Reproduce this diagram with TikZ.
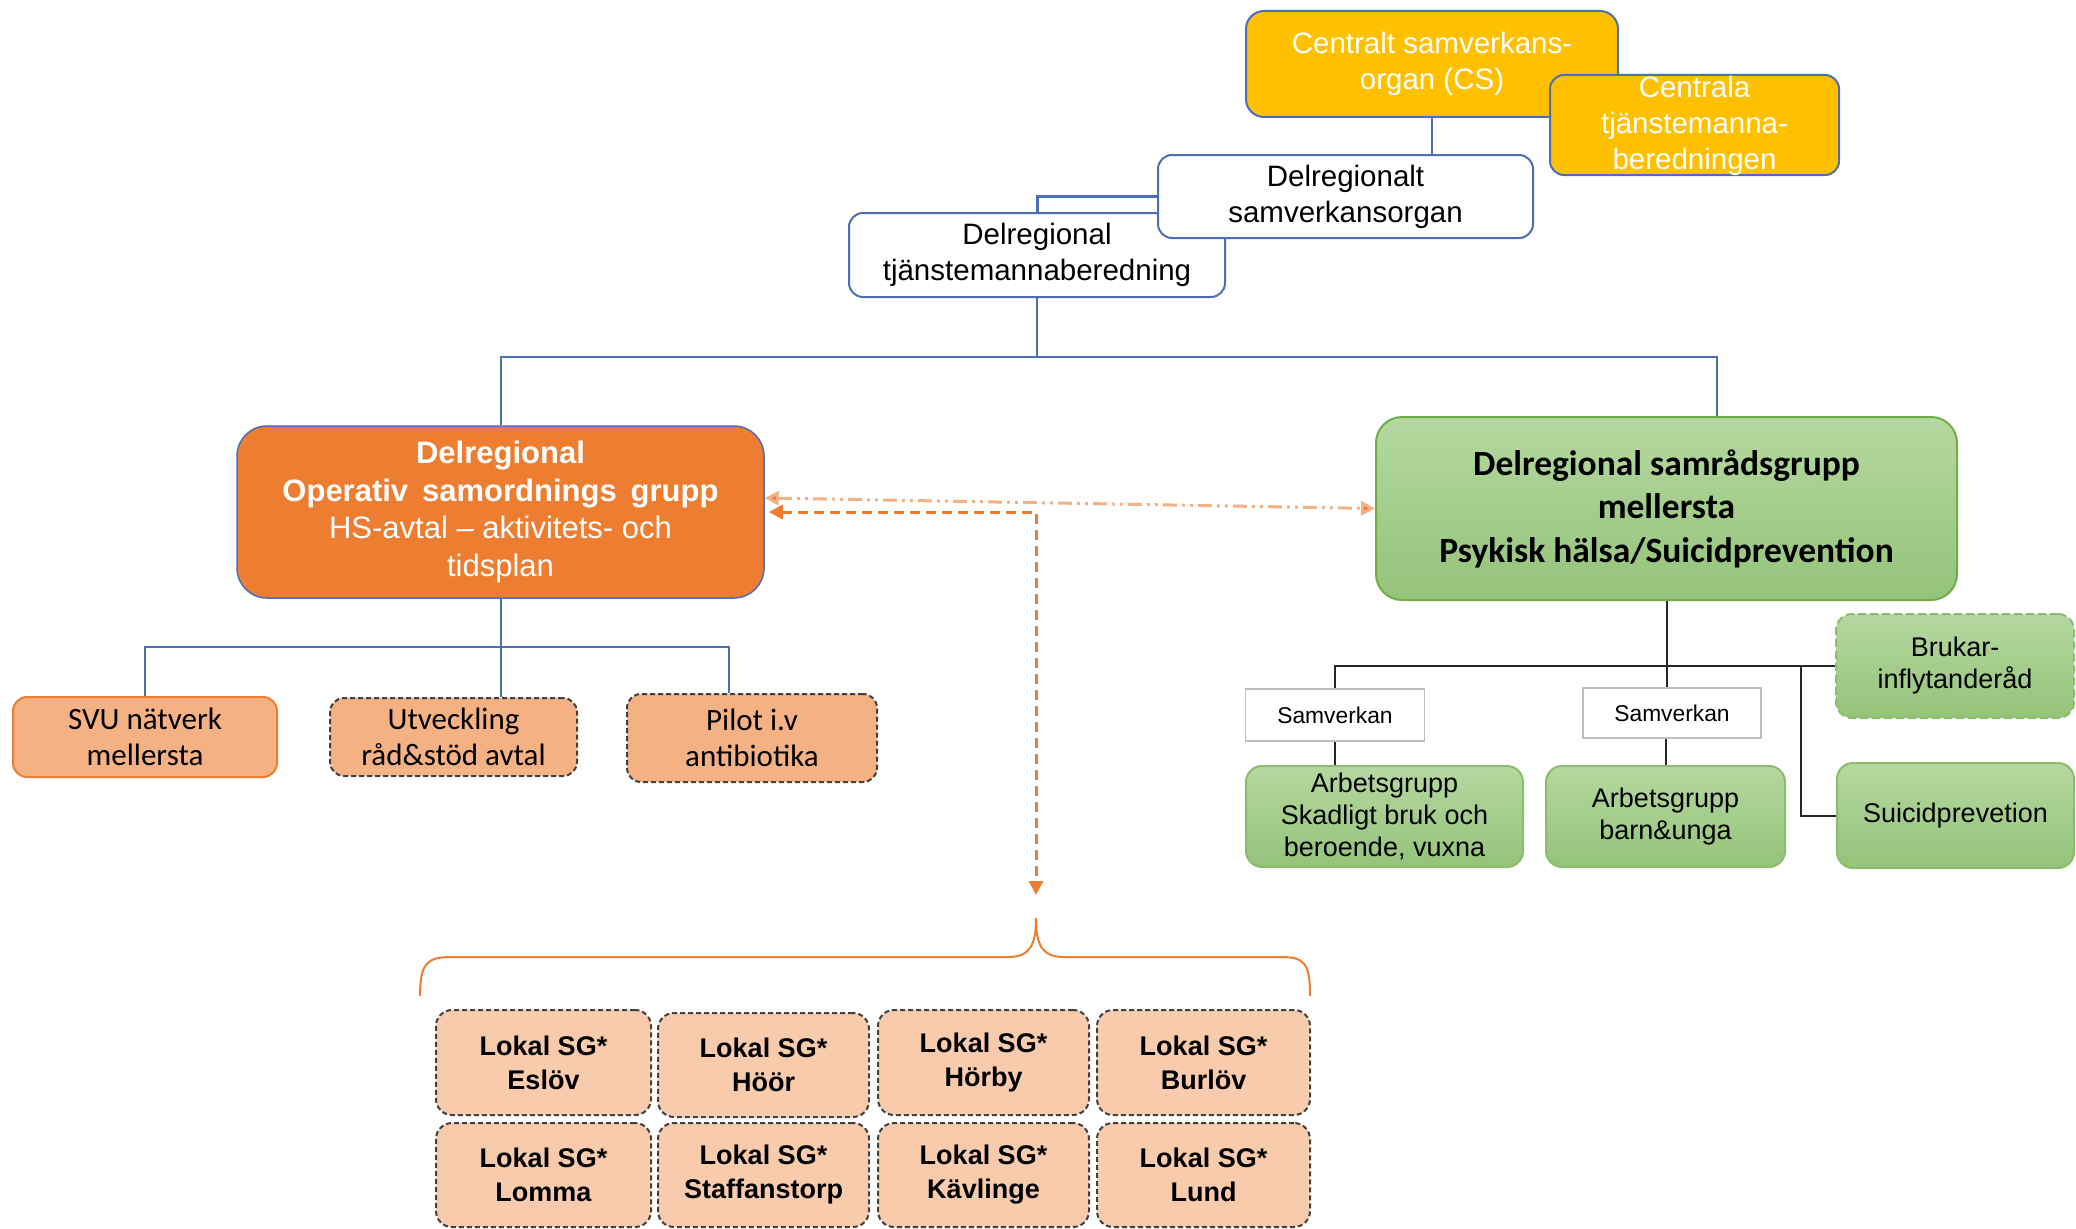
\documentclass[tikz,border=0pt]{standalone}
\usepackage{fontspec}
\setmainfont{Liberation Sans}
\newfontfamily\calibfont{Carlito}
\usetikzlibrary{arrows.meta}
\definecolor{cblue}{HTML}{4A6FB5}
\definecolor{cyellow}{HTML}{FFC000}
\definecolor{corange}{HTML}{ED7D31}
\definecolor{clor}{HTML}{F4B183}
\definecolor{clokal}{HTML}{F8CBAD}
\definecolor{cdash}{HTML}{404040}
\definecolor{cgreenb}{HTML}{70AD47}
\definecolor{cgtop}{HTML}{B5D8A0}
\definecolor{cgbot}{HTML}{94C37A}
\definecolor{cgray}{HTML}{BFBFBF}
\begin{document}
\begin{tikzpicture}[x=1pt,y=-1pt,
  topbox/.style={draw=cblue, line width=2pt, fill=white, rounded corners=14pt, inner sep=0pt, align=center, font=\fontsize{29.5}{36}\selectfont},
  ybox/.style={topbox, fill=cyellow, text=white},
  mainor/.style={draw=cblue, line width=1.5pt, fill=corange, rounded corners=30pt, text=white, align=center, inner sep=0pt, font=\fontsize{31}{37.5}\selectfont},
  maingr/.style={draw=cgreenb, line width=2pt, top color=cgtop, bottom color=cgbot, rounded corners=26pt, align=center, inner sep=0pt, font=\calibfont\bfseries\fontsize{35.5}{43.5}\selectfont},
  smallor/.style={fill=clor, rounded corners=14pt, align=center, inner sep=0pt, font=\calibfont\fontsize{31}{36}\selectfont},
  solidor/.style={smallor, draw=corange, line width=2pt},
  dashor/.style={smallor, draw=cdash, line width=2pt, dash pattern=on 5pt off 3pt},
  lokal/.style={fill=clokal, draw=cdash, line width=2pt, dash pattern=on 5pt off 3pt, rounded corners=16pt, align=center, inner sep=0pt, font=\bfseries\fontsize{27}{34}\selectfont},
  grbox/.style={draw=cgreenb!80, line width=2pt, top color=cgtop, bottom color=cgbot, rounded corners=16pt, align=center, inner sep=0pt, font=\fontsize{27}{32}\selectfont},
  samv/.style={draw=cgray, line width=1.5pt, fill=white, inner sep=0pt, font=\fontsize{22.8}{27}\selectfont},
  bconn/.style={draw=cblue, line width=2pt},
  kconn/.style={draw=black!85, line width=2pt},
  dline/.style={draw=corange, line width=3pt, dash pattern=on 10pt off 6pt, {Triangle[length=14pt,width=14pt]}-{Triangle[length=14pt,width=14pt]}},
  ddline/.style={draw=clor, line width=3pt, dash pattern=on 14pt off 5pt on 3pt off 5pt on 3pt off 5pt, {Triangle[length=14pt,width=14pt,fill=corange]}-{Triangle[length=14pt,width=14pt,fill=corange]}}
]
\fill[white] (0,0) rectangle (2076,1228);
\useasboundingbox (0,0) rectangle (2076,1228);

% top boxes
\node[topbox, minimum width=376pt, minimum height=84pt] (dtb) at (1037,255) {Delregional\\tjänstemannaberedning};
\node[topbox, minimum width=375pt, minimum height=83pt] (dso) at (1345.5,196.5) {Delregionalt\\samverkansorgan};
\node[ybox, minimum width=372pt, minimum height=106pt, rounded corners=18pt] (cs) at (1432,64) {Centralt samverkans-\\organ (CS)};
\node[ybox, minimum width=289pt, minimum height=100pt] (ctb) at (1694.5,125) {};
\node[text=white, align=center, inner sep=0pt, font=\fontsize{29.5}{36}\selectfont] (ctbt) at (1694.5,126) {Centrala\\tjänstemanna-\\beredningen};

\draw[bconn] (cs.south) -- (cs.south |- dso.north);
\draw[bconn, line width=3pt] (dso.west) -| (dtb.north);

% main boxes
\node[mainor, minimum width=527pt, minimum height=172pt] (osg) at (500.5,512) {\textbf{Delregional}\\\textbf{Operativ\hspace{0.45em}samordnings\hspace{0.45em}grupp}\\HS-avtal -- aktivitets- och\\tidsplan};
\node[maingr, minimum width=581pt, minimum height=183pt] (gsg) at (1666.5,508.5) {Delregional samrådsgrupp\\mellersta\\Psykisk hälsa/Suicidprevention};

\coordinate (gj) at (1717,357);
\draw[bconn] (dtb.south) -- (dtb.south |- gj);
\draw[bconn] (osg.north) |- (gj) -- (gj |- gsg.north);

% orange sub-boxes
\node[solidor, minimum width=264pt, minimum height=80pt] (svu) at (145,737) {SVU nätverk\\mellersta};
\node[dashor, minimum width=247pt, minimum height=78pt] (utv) at (453.5,737) {Utveckling\\råd\&stöd avtal};
\node[dashor, minimum width=250pt, minimum height=88pt] (pil) at (752,738) {Pilot i.v\\antibiotika};

\coordinate (ojr) at (729,647);
\draw[bconn] (osg.south) -- (osg.south |- utv.north);
\draw[bconn] (svu.north) |- (ojr) -- (ojr |- pil.north);

% orange arrows
\coordinate (dend) at (1036,895);
\draw[ddline] ([yshift=14pt]osg.east) -- (gsg.west);
\draw[dline] ([xshift=4pt]osg.east) -| (dend);

% brace
\coordinate (btip) at (1036,918);
\draw[corange, line width=2pt] (420,996) .. controls (420,962) and (428,957) .. (452,957) -- (1008,957) .. controls (1030,957) and (1036,945) .. (btip) .. controls (1036,945) and (1042,957) .. (1064,957) -- (1280,957) .. controls (1304,957) and (1310,962) .. (1310,996);

% lokal boxes
\node[lokal, minimum width=215pt, minimum height=105pt] (l1) at (543.5,1062.5) {Lokal SG*\\Eslöv};
\node[lokal, minimum width=211pt, minimum height=104pt] (l2) at (763.5,1065) {Lokal SG*\\Höör};
\node[lokal, minimum width=211pt, minimum height=105pt] (l3) at (983.5,1062.5) {Lokal SG*\\Hörby};
\node[lokal, minimum width=213pt, minimum height=105pt] (l4) at (1203.5,1062.5) {Lokal SG*\\Burlöv};
\node[lokal, minimum width=215pt, minimum height=104pt] (l5) at (543.5,1175) {Lokal SG*\\Lomma};
\node[lokal, minimum width=211pt, minimum height=104pt] (l6) at (763.5,1175) {Lokal SG*\\Staffanstorp};
\node[lokal, minimum width=211pt, minimum height=104pt] (l7) at (983.5,1175) {Lokal SG*\\Kävlinge};
\node[lokal, minimum width=213pt, minimum height=104pt] (l8) at (1203.5,1175) {Lokal SG*\\Lund};

% right side
\node[samv, minimum width=179pt, minimum height=52pt] (sv1) at (1335,715) {Samverkan};
\node[samv, minimum width=178pt, minimum height=50pt] (sv2) at (1672,713) {Samverkan};
\node[grbox, minimum width=277pt, minimum height=101pt] (arb1) at (1384.5,816.5) {Arbetsgrupp\\Skadligt bruk och\\beroende, vuxna};
\node[grbox, minimum width=239pt, minimum height=101pt] (arb2) at (1665.5,816.5) {Arbetsgrupp\\barn\&unga};
\node[grbox, dash pattern=on 8pt off 4pt, minimum width=238pt, minimum height=104pt] (brk) at (1955,666) {Brukar-\\inflytanderåd};
\node[grbox, minimum width=237pt, minimum height=105pt] (sui) at (1955.5,815.5) {Suicidprevetion};

\coordinate (sj) at (1801,665);
\draw[kconn] (gsg.south) -- (gsg.south |- sv2.north);
\draw[kconn] (sv1.north) |- (brk.west);
\draw[kconn] (sv1.south) -- (sv1.south |- arb1.north);
\draw[kconn] (sv2.south -| arb2.north) -- (arb2.north);
\draw[kconn] (sj) |- (sui.west);
\end{tikzpicture}
\end{document}
